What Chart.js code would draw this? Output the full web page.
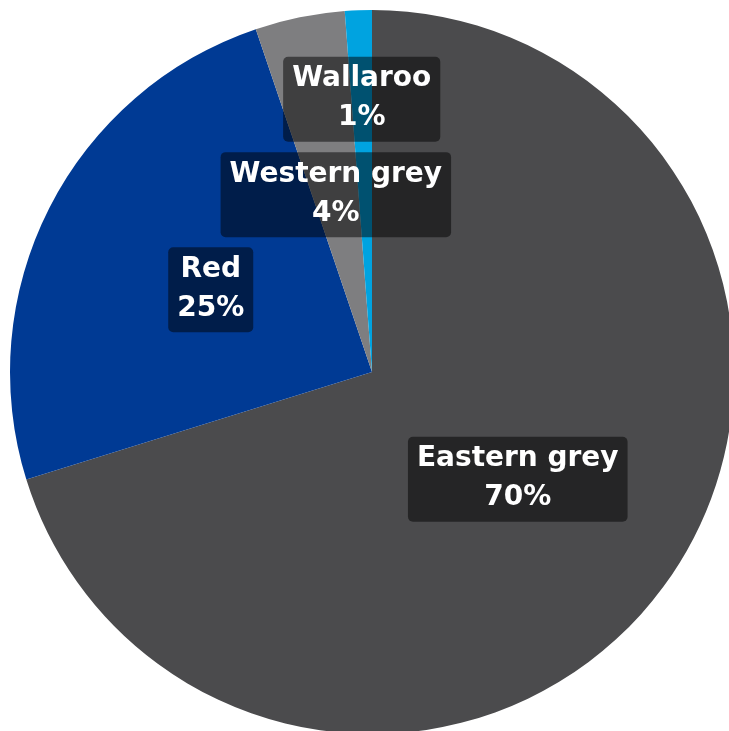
<!DOCTYPE html>
<html>
  <head>
    <meta charset="utf-8">
    <title>Kangaroo species</title>
    <script src="https://cdn.jsdelivr.net/npm/chart.js"></script>
    <style>
      html, body {
        margin: 0;
        padding: 0;
        background: #ffffff;
        overflow: hidden;
      }
      #wrap {
        position: absolute;
        left: 0;
        top: 0;
        width: 744px;
        height: 744px;
      }
    </style>
  </head>
  <body>
    <div id="wrap">
      <canvas id="speciesChart"></canvas>
    </div>
    <script>
      // data (share of kangaroos counted)
      const species = ['Eastern grey', 'Red', 'Western grey', 'Wallaroo'];
      const shares = [70.2, 24.6, 4.0, 1.2];
      const colours = ['#4b4b4d', '#003a94', '#7e7e80', '#00a3e0'];

      const labelFont = 'bold 28px "DejaVu Sans"';

      // draws the dark label boxes like the power bi data labels
      const boxLabels = {
        id: 'boxLabels',
        afterDatasetsDraw(chart) {
          const ctx = chart.ctx;
          const meta = chart.getDatasetMeta(0);
          const total = shares.reduce((a, b) => a + b, 0);
          const placed = [];
          const order = shares.map((v, i) => i).sort((a, b) => shares[b] - shares[a]);

          ctx.save();
          ctx.font = labelFont;
          for (let i of order) {
            const arc = meta.data[i];
            const mid = (arc.startAngle + arc.endAngle) / 2;
            const line1 = species[i];
            const line2 = Math.round(shares[i] / total * 100) + '%';
            const w = Math.max(ctx.measureText(line1).width, ctx.measureText(line2).width) + 18;
            const h = 85;
            let r = arc.outerRadius * 0.5;
            let cx, cy;
            while (true) {
              cx = arc.x + Math.cos(mid) * r;
              cy = arc.y + Math.sin(mid) * r;
              const hit = placed.some(b =>
                cx - w / 2 < b.x + b.w / 2 + 10 && cx + w / 2 > b.x - b.w / 2 - 10 &&
                cy - h / 2 < b.y + b.h / 2 + 10 && cy + h / 2 > b.y - b.h / 2 - 10);
              if (!hit || r > arc.outerRadius) break;
              r += 2;
            }
            placed.push({x: cx, y: cy, w: w, h: h});

            ctx.fillStyle = 'rgba(0, 0, 0, 0.5)';
            ctx.beginPath();
            ctx.roundRect(cx - w / 2, cy - h / 2, w, h, 5);
            ctx.fill();

            ctx.fillStyle = '#ffffff';
            ctx.textAlign = 'center';
            ctx.textBaseline = 'alphabetic';
            ctx.fillText(line1, cx, cy - 13);
            ctx.fillText(line2, cx, cy + 26);
          }
          ctx.restore();
        }
      };

      new Chart(document.getElementById('speciesChart'), {
        type: 'pie',
        data: {
          labels: species,
          datasets: [{
            data: shares,
            backgroundColor: colours,
            borderWidth: 0
          }]
        },
        options: {
          responsive: true,
          maintainAspectRatio: false,
          animation: false,
          layout: { padding: 10 },
          plugins: {
            legend: { display: false },
            tooltip: { enabled: false }
          }
        },
        plugins: [boxLabels]
      });
    </script>
  </body>
</html>
